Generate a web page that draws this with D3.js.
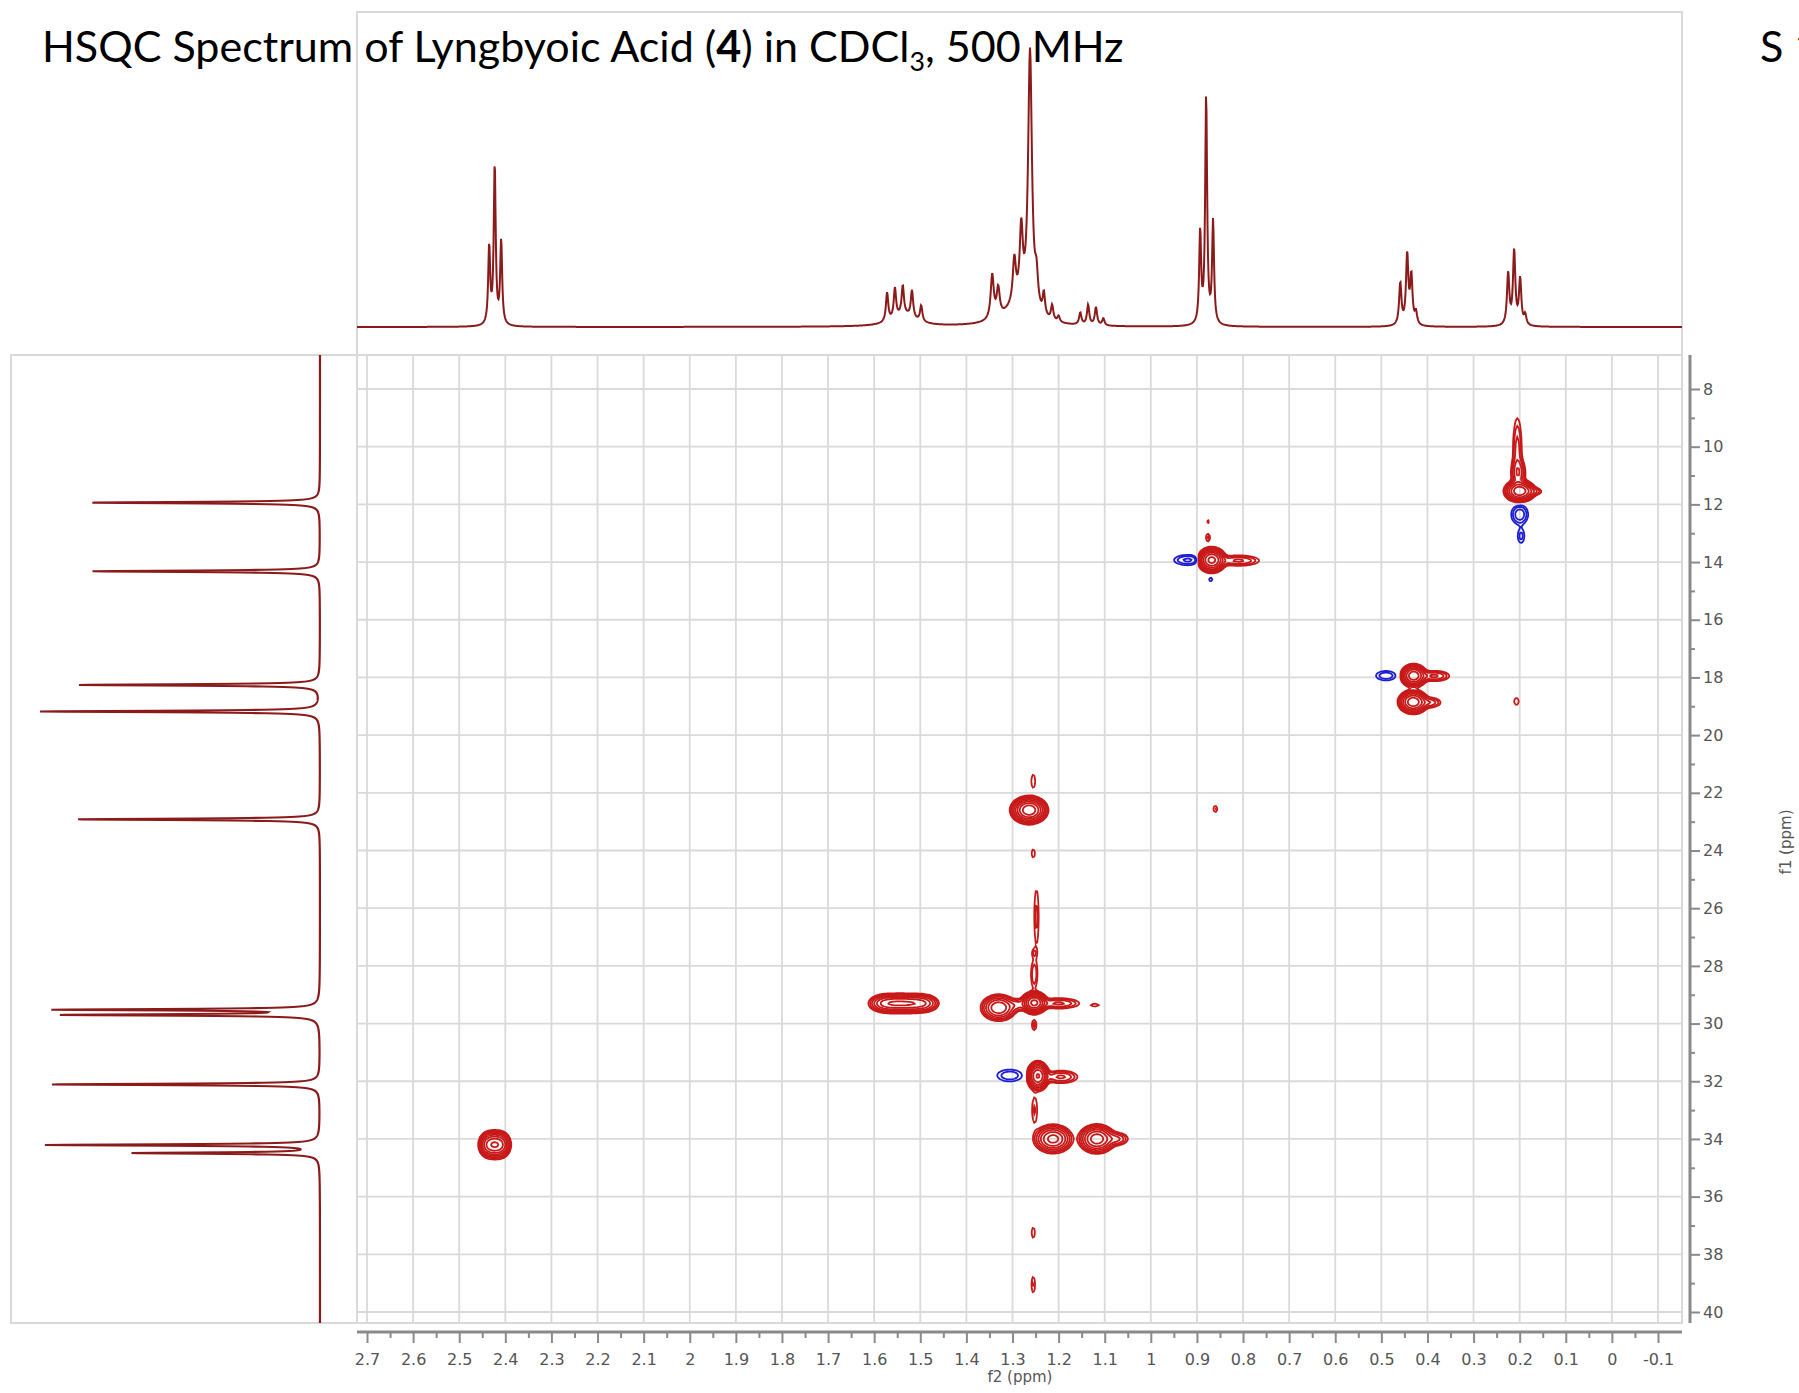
<!DOCTYPE html>
<html>
<head>
<meta charset="utf-8">
<script src="https://cdn.jsdelivr.net/npm/d3@7"></script>
<style>
  body { margin: 0; background: #ffffff; }
</style>
</head>
<body>
<div id="chart"></div>
<script>
// HSQC spectrum of lyngbyoic acid, redrawn with D3.
// 1D proton trace on top, 1D carbon trace on the left, 2D contours in the middle.

// axis ticks (ppm)
var f2Ticks = [2.7, 2.6, 2.5, 2.4, 2.3, 2.2, 2.1, 2, 1.9, 1.8, 1.7, 1.6, 1.5, 1.4, 1.3,
               1.2, 1.1, 1, 0.9, 0.8, 0.7, 0.6, 0.5, 0.4, 0.3, 0.2, 0.1, 0, -0.1];
var f2MinorTicks = [2.65, 2.55, 2.45, 2.35, 2.25, 2.15, 2.05, 1.95, 1.85, 1.75, 1.65, 1.55,
                    1.45, 1.35, 1.25, 1.15, 1.05, 0.95, 0.85, 0.75, 0.65, 0.55, 0.45, 0.35,
                    0.25, 0.15, 0.05, -0.05];
var f1Ticks = [8, 10, 12, 14, 16, 18, 20, 22, 24, 26, 28, 30, 32, 34, 36, 38, 40];
var f1MinorTicks = [9, 11, 13, 15, 17, 19, 21, 23, 25, 27, 29, 31, 33, 35, 37, 39];

// 1H peaks: [ppm, height, half width (ppm)]
var protonPeaks = [
    [2.435, 78, 0.0025], [2.423, 160, 0.0025], [2.409, 84, 0.0025],
    [1.572, 29, 0.003], [1.555, 30, 0.003], [1.538, 29, 0.003], [1.518, 27, 0.003], [1.498, 16, 0.003],
    [1.535, 11, 0.03],
    [1.344, 44, 0.004], [1.331, 28, 0.004], [1.296, 44, 0.004], [1.281, 72, 0.004],
    [1.262, 262, 0.005], [1.248, 30, 0.004], [1.232, 22, 0.003], [1.214, 15, 0.003], [1.200, 6, 0.003],
    [1.290, 18, 0.035],
    [1.153, 12, 0.003], [1.136, 20, 0.003], [1.119, 18, 0.003], [1.103, 7, 0.003],
    [0.893, 92, 0.0025], [0.880, 228, 0.0025], [0.865, 102, 0.0025],
    [0.459, 42, 0.003], [0.444, 70, 0.003], [0.435, 48, 0.003], [0.425, 12, 0.003],
    [0.225, 52, 0.003], [0.212, 74, 0.003], [0.199, 46, 0.003], [0.188, 10, 0.003]
];

// 13C peaks: [ppm, height]
var carbonPeaks = [
    [11.94, 231], [14.32, 228], [18.26, 242], [19.18, 280], [22.92, 245],
    [29.52, 262], [29.70, 256],
    [32.11, 270], [34.21, 273], [34.49, 192], [34.46, -10]
];

// HSQC cross peaks: [f2 ppm, f1 ppm, amplitude, sd f2 (ppm), sd f1 (ppm)]
// positive = red, negative = blue
var hsqcPeaks = [
    [2.437, 34.2, 18, 0.009, 0.19], [2.423, 34.2, 26, 0.009, 0.19], [2.409, 34.2, 18, 0.009, 0.19],
    [1.580, 29.3, 10, 0.015, 0.14], [1.560, 29.3, 13, 0.015, 0.14], [1.538, 29.3, 14, 0.015, 0.14],
    [1.515, 29.3, 13, 0.015, 0.14], [1.492, 29.3, 10, 0.015, 0.14],
    [1.330, 29.45, 20, 0.016, 0.19], [1.290, 29.35, 3, 0.012, 0.12],
    [1.253, 29.28, 40, 0.011, 0.15], [1.200, 29.3, 5, 0.025, 0.1],
    [1.253, 28.3, 2.5, 0.005, 0.35], [1.253, 30.05, 2, 0.004, 0.15], [1.253, 27.55, 1.5, 0.004, 0.12],
    [1.121, 29.36, 1.5, 0.009, 0.05],
    [1.264, 22.6, 50, 0.015, 0.18], [1.255, 21.6, 1.7, 0.004, 0.22], [1.255, 24.1, 1.6, 0.0035, 0.14],
    [1.248, 26.3, 2, 0.004, 0.8],
    [1.245, 31.82, 35, 0.0095, 0.2], [1.195, 31.85, 5, 0.020, 0.12], [1.252, 33.0, 1.8, 0.005, 0.4],
    [1.212, 34.0, 25, 0.017, 0.2], [1.117, 34.0, 28, 0.016, 0.2], [1.075, 34.0, 5, 0.014, 0.12],
    [1.255, 37.25, 1.6, 0.0035, 0.18], [1.255, 39.05, 1.8, 0.0035, 0.25],
    [0.868, 13.93, 40, 0.012, 0.17], [0.810, 13.95, 5, 0.025, 0.1],
    [0.876, 12.6, 1.3, 0.003, 0.07], [0.876, 13.15, 1.8, 0.004, 0.12],
    [0.860, 22.56, 1.7, 0.004, 0.1],
    [0.430, 17.94, 30, 0.0115, 0.16], [0.385, 17.95, 5, 0.018, 0.1],
    [0.431, 18.85, 30, 0.013, 0.165], [0.395, 18.87, 4, 0.014, 0.1],
    [0.207, 18.83, 1.6, 0.005, 0.12],
    [0.200, 11.54, 30, 0.0135, 0.155], [0.170, 11.55, 2.5, 0.012, 0.08],
    [0.203, 10.9, 6, 0.008, 0.25], [0.205, 10.2, 3.5, 0.006, 0.75],
    [1.306, 31.8, -2.5, 0.020, 0.15],
    [0.920, 13.93, -3, 0.020, 0.12], [0.870, 14.6, -1.5, 0.004, 0.07],
    [0.490, 17.94, -2.5, 0.016, 0.12],
    [0.200, 12.35, -4, 0.011, 0.21], [0.197, 13.1, -2, 0.006, 0.2]
];

var contourLevels = [1, 1.65, 2.7, 4.5, 7.4, 12.2, 20, 33];

(function() {

    var width = 1799;
    var height = 1393;

    var plot = { left: 357, right: 1682, top: 355, bottom: 1323 };

    var frameColor = "#d9d9d9";
    var gridColor = "#dadada";
    var axisColor = "#8a8a8a";
    var textColor = "#555555";
    var traceColor = "#8b1a1a";

    var x = d3.scaleLinear().domain([2.7, -0.1]).range([367, 1658]);
    var y = d3.scaleLinear().domain([8, 40]).range([389, 1312]);
    var hScale = d3.scaleLinear().domain([0, 300]).range([327, 27]);
    var cScale = d3.scaleLinear().domain([0, 300]).range([320, 20]);

    var svg = d3.select("#chart")
        .append("svg")
        .attr("width", width)
        .attr("height", height)
        .style("font-family", "'DejaVu Sans', sans-serif");

    svg.append("rect")
        .attr("width", width)
        .attr("height", height)
        .attr("fill", "#ffffff");

    // frames
    svg.append("rect")
        .attr("x", plot.left).attr("y", 12)
        .attr("width", plot.right - plot.left).attr("height", plot.top - 12)
        .attr("fill", "none").attr("stroke", frameColor).attr("stroke-width", 2);

    svg.append("rect")
        .attr("x", 11).attr("y", plot.top)
        .attr("width", plot.left - 11).attr("height", plot.bottom - plot.top)
        .attr("fill", "none").attr("stroke", frameColor).attr("stroke-width", 2);

    // grid
    svg.selectAll(".vgrid")
        .data(f2Ticks)
        .enter()
        .append("line")
        .attr("x1", function(d) { return x(d); })
        .attr("x2", function(d) { return x(d); })
        .attr("y1", plot.top)
        .attr("y2", plot.bottom)
        .attr("stroke", gridColor)
        .attr("stroke-width", 1.8);

    svg.selectAll(".hgrid")
        .data(f1Ticks)
        .enter()
        .append("line")
        .attr("x1", plot.left)
        .attr("x2", plot.right)
        .attr("y1", function(d) { return y(d); })
        .attr("y2", function(d) { return y(d); })
        .attr("stroke", gridColor)
        .attr("stroke-width", 1.8);

    svg.append("rect")
        .attr("x", plot.left).attr("y", plot.top)
        .attr("width", plot.right - plot.left).attr("height", plot.bottom - plot.top)
        .attr("fill", "none").attr("stroke", frameColor).attr("stroke-width", 2);

    // 2D contours from the peak list
    var step = 1.5;
    var nx = Math.ceil((plot.right - plot.left) / step);
    var ny = Math.ceil((plot.bottom - plot.top) / step);
    var values = new Float64Array(nx * ny);

    hsqcPeaks.forEach(function(p) {
        var cx = x(p[0]);
        var cy = y(p[1]);
        var sx = Math.abs(x(p[0] + p[3]) - cx);
        var sy = Math.abs(y(p[1] + p[4]) - cy);
        var i0 = Math.max(0, Math.floor((cx - 5 * sx - plot.left) / step));
        var i1 = Math.min(nx - 1, Math.ceil((cx + 5 * sx - plot.left) / step));
        var j0 = Math.max(0, Math.floor((cy - 5 * sy - plot.top) / step));
        var j1 = Math.min(ny - 1, Math.ceil((cy + 5 * sy - plot.top) / step));
        for (var j = j0; j <= j1; j++) {
            var dy = (plot.top + (j + 0.5) * step - cy) / sy;
            for (var i = i0; i <= i1; i++) {
                var dx = (plot.left + (i + 0.5) * step - cx) / sx;
                values[j * nx + i] += p[2] * Math.exp(-0.5 * (dx * dx + dy * dy));
            }
        }
    });

    var negValues = values.map(function(v) { return -v; });

    var contours = d3.contours()
        .size([nx, ny])
        .thresholds(contourLevels);

    var gridPath = d3.geoPath(d3.geoTransform({
        point: function(px, py) {
            this.stream.point(plot.left + px * step, plot.top + py * step);
        }
    }));

    var contourGroup = svg.append("g");

    contourGroup.selectAll(".pos")
        .data(contours(values))
        .enter()
        .append("path")
        .attr("d", gridPath)
        .attr("fill", "none")
        .attr("stroke", "#c81818")
        .attr("stroke-width", 1.8);

    contourGroup.selectAll(".neg")
        .data(contours(negValues))
        .enter()
        .append("path")
        .attr("d", gridPath)
        .attr("fill", "none")
        .attr("stroke", "#1c1cd6")
        .attr("stroke-width", 1.8);

    // 1D proton trace
    function lorentz(pos, h, w, at) {
        var d = at - pos;
        return h * w * w / (d * d + w * w);
    }

    var protonTrace = [];
    for (var px = plot.left; px <= plot.right; px += 0.5) {
        var ppm = x.invert(px);
        var sum = 0;
        protonPeaks.forEach(function(p) { sum += lorentz(p[0], p[1], p[2], ppm); });
        protonTrace.push([ppm, sum]);
    }

    svg.append("path")
        .datum(protonTrace)
        .attr("d", d3.line()
            .x(function(d) { return x(d[0]); })
            .y(function(d) { return hScale(d[1]); }))
        .attr("fill", "none")
        .attr("stroke", traceColor)
        .attr("stroke-width", 2);

    // 1D carbon trace (vertical)
    var carbonTrace = [];
    for (var py = plot.top; py <= plot.bottom; py += 0.25) {
        var cppm = y.invert(py);
        var csum = 0;
        carbonPeaks.forEach(function(p) { csum += lorentz(p[0], p[1], 0.03, cppm); });
        carbonTrace.push([cppm, csum]);
    }

    svg.append("path")
        .datum(carbonTrace)
        .attr("d", d3.line()
            .x(function(d) { return cScale(d[1]); })
            .y(function(d) { return y(d[0]); }))
        .attr("fill", "none")
        .attr("stroke", traceColor)
        .attr("stroke-width", 2.2);

    // x axis
    var axisY = 1332;

    svg.append("line")
        .attr("x1", plot.left).attr("x2", plot.right)
        .attr("y1", axisY).attr("y2", axisY)
        .attr("stroke", axisColor).attr("stroke-width", 3);

    var xAxis = d3.axisBottom(x)
        .tickValues(f2Ticks)
        .tickSize(11)
        .tickSizeOuter(0)
        .tickPadding(11)
        .tickFormat(function(d) { return String(+d.toFixed(1)); });

    svg.append("g")
        .attr("transform", "translate(0," + axisY + ")")
        .call(xAxis);

    svg.append("g")
        .attr("transform", "translate(0," + axisY + ")")
        .call(d3.axisBottom(x).tickValues(f2MinorTicks).tickSize(6).tickSizeOuter(0).tickFormat(""));

    // y axis
    var axisX = 1690;

    svg.append("line")
        .attr("x1", axisX).attr("x2", axisX)
        .attr("y1", plot.top).attr("y2", plot.bottom)
        .attr("stroke", axisColor).attr("stroke-width", 3);

    var yAxis = d3.axisRight(y)
        .tickValues(f1Ticks)
        .tickSize(10)
        .tickSizeOuter(0)
        .tickPadding(3);

    svg.append("g")
        .attr("transform", "translate(" + axisX + ",0)")
        .call(yAxis);

    svg.append("g")
        .attr("transform", "translate(" + axisX + ",0)")
        .call(d3.axisRight(y).tickValues(f1MinorTicks).tickSize(5).tickSizeOuter(0).tickFormat(""));

    svg.selectAll(".domain").remove();
    svg.selectAll(".tick line")
        .attr("stroke", axisColor)
        .attr("stroke-width", 2);
    svg.selectAll(".tick text")
        .attr("fill", textColor)
        .attr("font-size", "16px")
        .attr("font-family", "'DejaVu Sans', sans-serif");

    // axis titles
    svg.append("text")
        .attr("x", 1020)
        .attr("y", 1382)
        .attr("text-anchor", "middle")
        .attr("fill", textColor)
        .attr("font-size", "15px")
        .text("f2 (ppm)");

    svg.append("text")
        .attr("transform", "translate(1786,842) rotate(-90)")
        .attr("text-anchor", "middle")
        .attr("dominant-baseline", "central")
        .attr("fill", textColor)
        .attr("font-size", "15px")
        .text("f1 (ppm)");

    // page title
    var title = svg.append("text")
        .attr("x", 42)
        .attr("y", 62)
        .attr("fill", "#000000")
        .attr("font-family", "Lato, 'Open Sans', sans-serif")
        .attr("font-size", "44px");

    title.append("tspan").text("HSQC Spectrum of Lyngbyoic Acid (");
    title.append("tspan").attr("font-weight", "bold").text("4");
    title.append("tspan").text(") in CDCl");
    title.append("tspan").attr("font-size", "0.62em").attr("dy", "0.35em").text("3");
    title.append("tspan").attr("dy", "-0.217em").text(", 500 MHz");

    var titleLength = title.node().getComputedTextLength();
    var titleSize = 44 * 1082 / titleLength;
    title.attr("font-size", titleSize + "px");

    // page number, cut by the right edge as in the source page
    svg.append("text")
        .attr("x", 1760)
        .attr("y", 62)
        .attr("fill", "#000000")
        .attr("font-family", "Lato, 'Open Sans', sans-serif")
        .attr("font-size", titleSize + "px")
        .text("S 1");

})();
</script>
</body>
</html>
